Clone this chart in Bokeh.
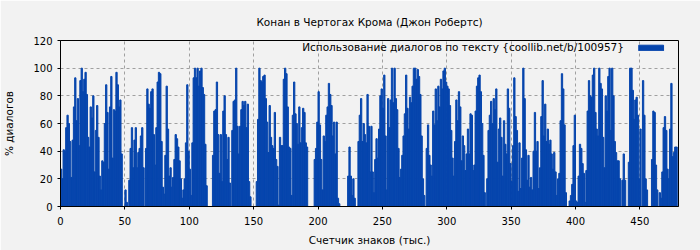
from bokeh.plotting import figure
from bokeh.models import FixedTicker, Legend, LegendItem, ColumnDataSource
from bokeh.embed import file_html
from bokeh.resources import INLINE

title_text = "Конан в Чертогах Крома (Джон Робертс)"
x_label = "Счетчик знаков (тыс.)"
y_label = "% диалогов"
legend_label = "Использование диалогов по тексту {coollib.net/b/100957}"

x_ticks = [0, 50, 100, 150, 200, 250, 300, 350, 400, 450]
y_ticks = [0, 20, 40, 60, 80, 100, 120]

# % of dialogue per 1000 characters
dialog_0_92 = [27, 20, 41, 40, 57, 66, 60, 47, 21, 48, 72, 93, 62, 78,
               44, 91, 100, 83, 92, 97, 81, 50, 43, 72, 64, 80, 25, 55,
               73, 50, 22, 12, 33, 32, 60, 88, 68, 27, 72, 94, 35, 70,
               69, 97, 88, 72, 77, 38, 0, 0, 12, 3, 0, 19, 42, 57,
               28, 48, 57, 28, 39, 42, 51, 57, 28, 0, 42, 85, 74, 71,
               83, 85, 52, 30, 57, 90, 97, 96, 47, 14, 9, 37, 87, 56,
               22, 28, 14, 21, 34, 52, 49, 43, 33]
dialog_93_184 = [20, 6, 12, 20, 46, 88, 40, 27, 8, 46, 93, 100, 93, 100,
                 87, 98, 100, 86, 81, 45, 15, 0, 0, 0, 0, 37, 69, 70,
                 90, 52, 24, 52, 18, 69, 80, 52, 34, 50, 17, 0, 55, 76,
                 77, 100, 58, 38, 58, 70, 76, 73, 76, 57, 74, 18, 7, 0,
                 0, 0, 0, 18, 63, 100, 91, 90,
                 94, 95, 78, 61, 39, 73, 50, 44, 42, 68, 34, 29, 1, 50,
                 44, 44, 92, 100, 96, 72, 43, 42, 8, 66, 90, 67, 60, 45]
dialog_185_277 = [72, 46, 57, 71, 68, 46, 43, 0, 0, 0, 0, 0,
                  34, 42, 61, 83, 59, 34, 12, 51, 47, 66, 72, 89, 81, 73,
                  51, 61, 38, 61, 6, 2, 0, 0, 0, 0, 0, 0,
                  22, 43, 22, 8, 20, 6, 0, 0,
                  47, 66, 78, 47, 60, 52, 46, 81, 58, 25, 58, 25, 10, 34,
                  49, 35, 56, 80, 85, 71, 95, 51, 12, 78, 57, 77, 100, 75,
                  100, 78, 70, 42, 21, 27, 37, 51, 67, 95, 71, 56, 79, 75,
                  87, 100, 100, 92, 99]
dialog_278_370 = [94, 81, 51, 20, 8, 0, 42, 59, 37, 30, 22, 69, 59, 85,
                  62, 87, 72, 92, 85, 98, 100, 90, 87, 85, 73, 55, 35, 22,
                  47, 77, 62, 83, 72, 33, 51, 44, 26, 38, 56, 38, 67, 66,
                  26, 30, 69, 87, 93, 95, 83, 60, 37, 10, 0, 20, 55, 66,
                  76, 60, 78, 70, 85, 32, 56, 64, 50, 22, 62, 45, 38, 85,
                  71, 31, 18, 44, 93, 65, 55, 11, 46, 13, 35, 100, 78, 41,
                  19, 37, 14, 21, 12, 40, 68, 40, 47]
dialog_371_478 = [13, 28, 65, 91, 51, 74, 47, 56, 45, 48, 38, 27, 39, 25,
                  8, 20, 24, 62, 96, 85, 59, 10, 0, 0, 4, 8, 16, 44,
                  66, 4, 3, 22, 45, 42, 31, 24, 3, 26, 69, 91, 80, 79,
                  95, 100, 68, 56, 51, 100, 89, 85, 50, 28, 80, 69, 94, 100,
                  55, 100, 80, 47, 39, 33, 33, 20, 0, 19, 38, 19, 0, 0,
                  32, 100, 100, 84, 63, 77, 79, 66, 20, 56, 0, 91, 66, 20,
                  12, 0, 0, 0, 34, 69, 68, 30, 12, 0, 10, 6, 25, 57,
                  65, 55, 27, 20, 56, 89, 36, 39, 43, 43]

values = dialog_0_92 + dialog_93_184 + dialog_185_277 + dialog_278_370 + dialog_371_478
counter = [i + 0.5 for i in range(len(values))]
src = ColumnDataSource(dict(x=counter, top=values))

FONT = "DejaVu Sans"
BAR = "#0645ad"
BG = "#f2f2f2"

p = figure(width=700, height=250, x_range=(0, 480), y_range=(0, 120),
           output_backend="svg", toolbar_location=None,
           min_border_left=60, min_border_right=22, min_border_top=40, min_border_bottom=44,
           background_fill_color=BG, border_fill_color=BG)

bars = p.vbar(x="x", top="top", width=1, source=src, fill_color=BAR,
              line_color=BAR, line_width=1)
dummy = p.vbar(x=[], top=[], width=1, fill_alpha=0, line_alpha=0)

p.title.text = title_text
p.title.align = "center"
p.title.text_font = FONT
p.title.text_font_size = "10.5px"
p.title.text_font_style = "normal"
p.title.text_color = "#000000"
p.title.standoff = 25

p.outline_line_color = "black"
p.outline_line_width = 1
p.outline_line_alpha = 1

for ax, ticks in ((p.xaxis, x_ticks), (p.yaxis, y_ticks)):
    ax.ticker = FixedTicker(ticks=ticks)
    ax.major_label_text_font = FONT
    ax.major_label_text_font_size = "10px"
    ax.major_label_text_color = "black"
    ax.axis_label_text_font = FONT
    ax.axis_label_text_font_size = "10.5px"
    ax.axis_label_text_font_style = "normal"
    ax.axis_label_text_color = "black"
    ax.minor_tick_line_color = None
    ax.major_tick_in = 0
    ax.major_tick_out = 3
    ax.axis_line_color = "black"
    ax.major_tick_line_color = "black"

p.xaxis.axis_label = x_label
p.yaxis.axis_label = y_label
p.xaxis.major_label_standoff = 7
p.xaxis.axis_label_standoff = 6
p.yaxis.axis_label_standoff = 15

p.xgrid.ticker = FixedTicker(ticks=x_ticks)
p.ygrid.ticker = FixedTicker(ticks=y_ticks)
for g in (p.xgrid, p.ygrid):
    g.grid_line_color = "#a0a0a0"
    g.grid_line_dash = "3 3"
    g.grid_line_width = 1

legend = Legend(items=[LegendItem(label=legend_label, renderers=[dummy]),
                       LegendItem(label=" ", renderers=[bars])],
                orientation="horizontal", location="top_right",
                background_fill_alpha=0, border_line_alpha=0,
                padding=0, margin=1, spacing=11, label_standoff=8,
                glyph_width=31, glyph_height=7, label_height=12, label_width=3,
                label_text_font=FONT, label_text_font_size="10.5px",
                label_text_color="black")
p.add_layout(legend)

open("out.html", "w").write(file_html(p, INLINE))
